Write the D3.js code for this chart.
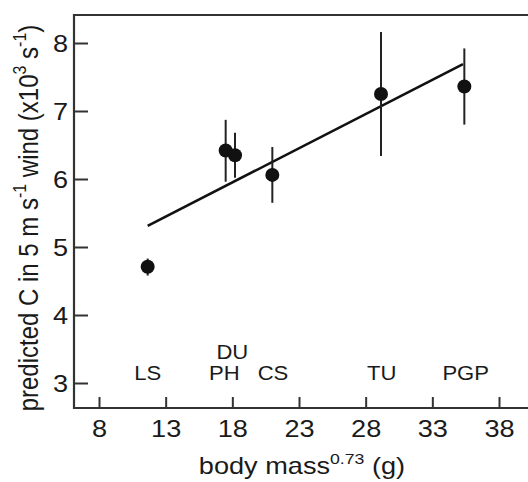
<!DOCTYPE html>
<html>
<head>
<meta charset="utf-8">
<script src="https://cdn.jsdelivr.net/npm/d3@7"></script>
<style>
  body { margin: 0; background: #fff; }
  svg text { font-family: "Liberation Sans", Arial, sans-serif; fill: #1a1a1a; }
</style>
</head>
<body>
<div id="chart"></div>
<script>
// dados
var especies = ["LS", "PH", "DU", "CS", "TU", "PGP"],
    massa = [11.65, 17.5, 18.2, 21.0, 29.15, 35.4],
    valorC = [4.71, 6.42, 6.35, 6.06, 7.25, 7.36],
    erroSup = [4.83, 6.87, 6.68, 6.47, 8.16, 7.92],
    erroInf = [4.58, 5.96, 6.02, 5.65, 6.34, 6.80],
    retaX = [11.65, 35.3],
    retaY = [5.31, 7.69],
    ticksX = [8, 13, 18, 23, 28, 33, 38],
    ticksY = [3, 4, 5, 6, 7, 8];

var largura = 528, altura = 482,
    estica = 1.18; // texto um pouco esticado na horizontal, como no original

var svg = d3.select("#chart").append("svg")
    .attr("width", largura)
    .attr("height", altura);

var x = d3.scaleLinear().domain([8, 38]).range([99, 499]);
var y = d3.scaleLinear().domain([3, 8]).range([383, 43]);

var esq = 74, topo = 15, base = 408;

// moldura (sem borda direita visivel)
svg.append("path")
    .attr("d", "M" + (largura + 5) + "," + topo + "H" + esq + "V" + base + "H" + (largura + 5))
    .attr("fill", "none")
    .attr("stroke", "#333")
    .attr("stroke-width", 2.2);

// eixo y, ticks para dentro
var eixoY = d3.axisLeft(y).tickValues(ticksY).tickSize(-14).tickFormat(d3.format("d"));
var gy = svg.append("g").attr("transform", "translate(" + esq + ",0)").call(eixoY);
gy.select(".domain").remove();
gy.selectAll("line").attr("stroke", "#333").attr("stroke-width", 2);
gy.selectAll("text")
    .style("font-size", "23px")
    .attr("x", 0).attr("dy", "0.36em")
    .attr("transform", "translate(-6,0) scale(" + estica + ",1)");

// eixo x, ticks para dentro
var eixoX = d3.axisBottom(x).tickValues(ticksX).tickSize(-11).tickFormat(d3.format("d"));
var gx = svg.append("g").attr("transform", "translate(0," + base + ")").call(eixoX);
gx.select(".domain").remove();
gx.selectAll("line").attr("stroke", "#333").attr("stroke-width", 2);
gx.selectAll("text")
    .style("font-size", "23px")
    .attr("y", 0).attr("dy", 0)
    .attr("transform", "translate(0,29) scale(" + estica + ",1)");

// reta de regressao
svg.append("line")
    .attr("x1", x(retaX[0])).attr("y1", y(retaY[0]))
    .attr("x2", x(retaX[1])).attr("y2", y(retaY[1]))
    .attr("stroke", "#111")
    .attr("stroke-width", 2.6);

// barras de erro
svg.selectAll(".erro").data(especies).enter().append("line")
    .attr("class", "erro")
    .attr("x1", function(d, i) { return x(massa[i]); })
    .attr("x2", function(d, i) { return x(massa[i]); })
    .attr("y1", function(d, i) { return y(erroSup[i]); })
    .attr("y2", function(d, i) { return y(erroInf[i]); })
    .attr("stroke", "#222")
    .attr("stroke-width", 2);

// pontos
svg.selectAll(".ponto").data(especies).enter().append("circle")
    .attr("class", "ponto")
    .attr("cx", function(d, i) { return x(massa[i]); })
    .attr("cy", function(d, i) { return y(valorC[i]); })
    .attr("r", 7)
    .attr("fill", "#111");

// rotulos das especies
var rotulos = [
    {t: "LS", m: 11.65, v: 3.04},
    {t: "PH", m: 17.4, v: 3.04},
    {t: "DU", m: 18.0, v: 3.36},
    {t: "CS", m: 21.05, v: 3.04},
    {t: "TU", m: 29.2, v: 3.04},
    {t: "PGP", m: 35.5, v: 3.04}
];
svg.selectAll(".rotulo").data(rotulos).enter().append("text")
    .attr("class", "rotulo")
    .attr("transform", function(d) { return "translate(" + x(d.m) + "," + y(d.v) + ") scale(1.05,1)"; })
    .attr("text-anchor", "middle")
    .style("font-size", "21px")
    .text(function(d) { return d.t; });

// titulo eixo x
var tx = svg.append("text")
    .attr("transform", "translate(302,474) scale(" + estica + ",1)")
    .attr("text-anchor", "middle")
    .style("font-size", "23px");
tx.append("tspan").text("body mass");
tx.append("tspan").attr("dy", -10).style("font-size", "15px").text("0.73");
tx.append("tspan").attr("dy", 10).text(" (g)");

// titulo eixo y
var ty = svg.append("text")
    .attr("transform", "translate(38,218) scale(" + estica + ",1) rotate(-90)")
    .attr("text-anchor", "middle")
    .style("font-size", "24px");
ty.append("tspan").text("predicted C in 5 m s");
ty.append("tspan").attr("dy", -10).style("font-size", "16px").text("-1");
ty.append("tspan").attr("dy", 10).text(" wind (x10");
ty.append("tspan").attr("dy", -10).style("font-size", "16px").text("3");
ty.append("tspan").attr("dy", 10).text(" s");
ty.append("tspan").attr("dy", -10).style("font-size", "16px").text("-1");
ty.append("tspan").attr("dy", 10).text(")");
</script>
</body>
</html>
